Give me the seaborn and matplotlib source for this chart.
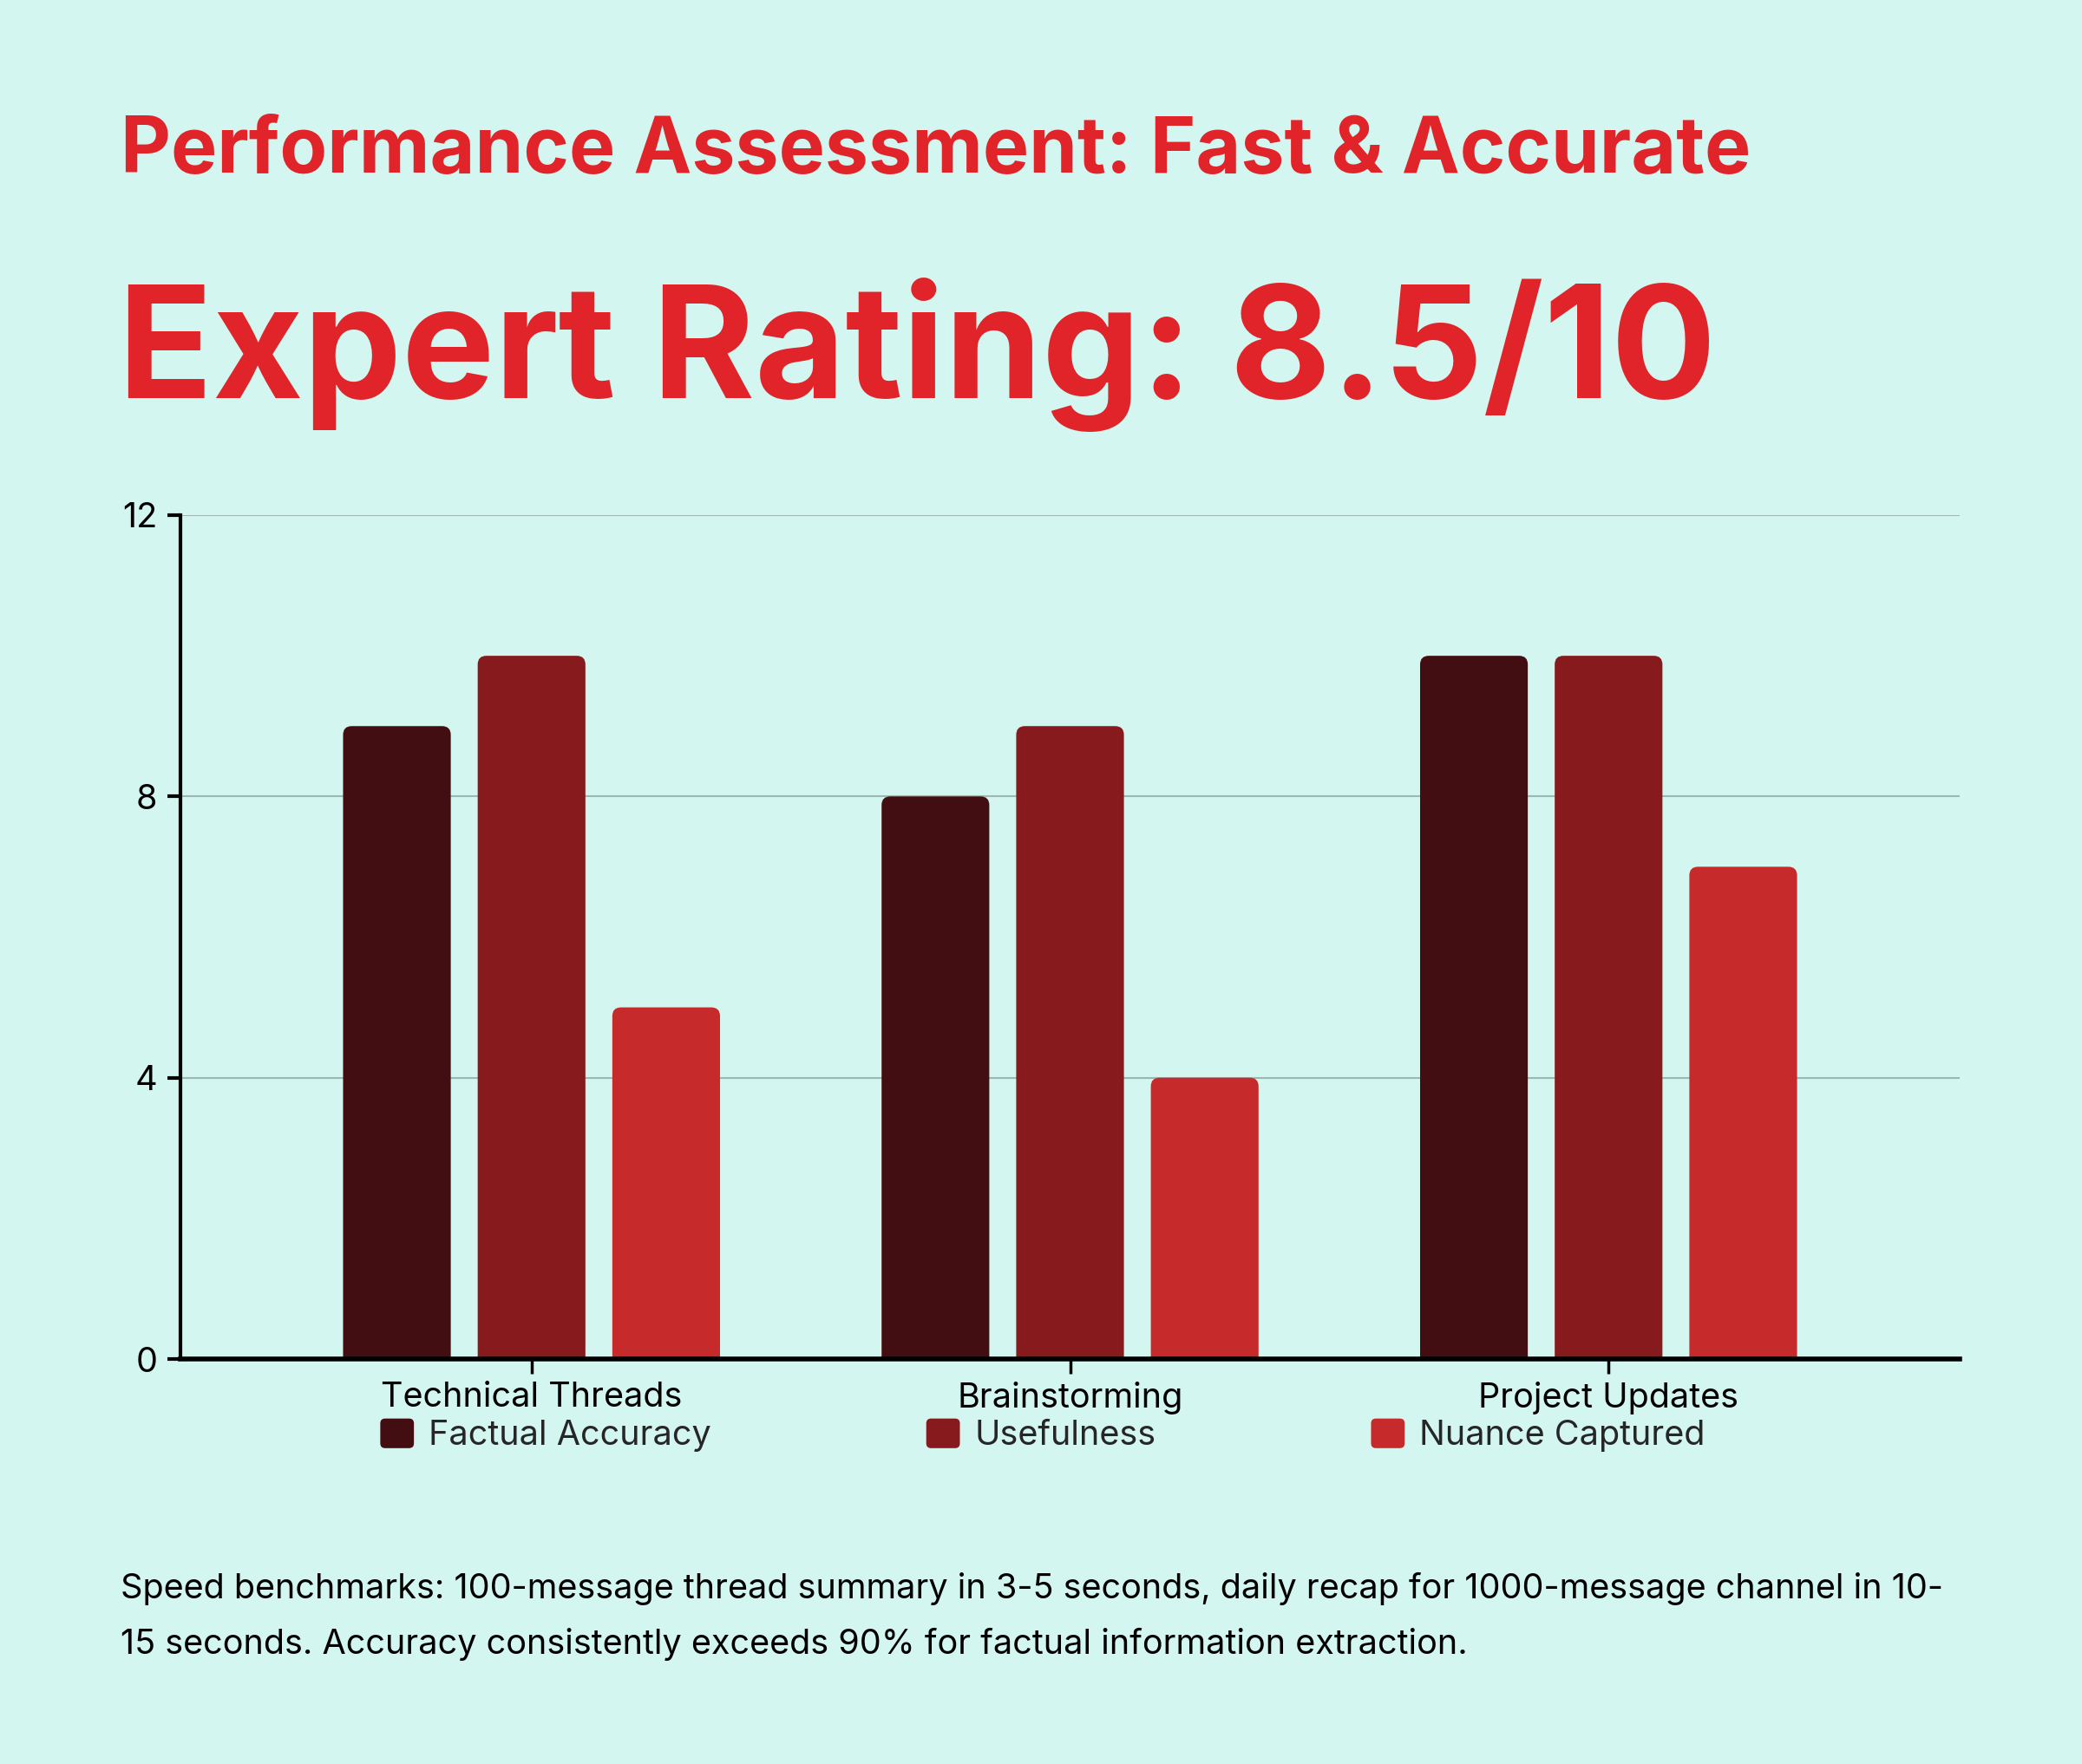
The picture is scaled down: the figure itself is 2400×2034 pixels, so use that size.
import matplotlib
matplotlib.use("Agg")
import matplotlib.pyplot as plt
from matplotlib.patches import FancyBboxPatch, Patch
from matplotlib.legend_handler import HandlerPatch
import seaborn as sns
import pandas as pd

categories = ["Technical Threads", "Brainstorming", "Project Updates"]
series_names = ["Factual Accuracy", "Usefulness", "Nuance Captured"]
factual_accuracy = [9, 8, 10]
usefulness = [10, 9, 10]
nuance_captured = [5, 4, 7]
y_ticks = [0, 4, 8, 12]

title_small = "Performance Assessment: Fast & Accurate"
title_big = "Expert Rating: 8.5/10"
footnote_1 = "Speed benchmarks: 100-message thread summary in 3-5 seconds, daily recap for 1000-message channel in 10-"
footnote_2 = "15 seconds. Accuracy consistently exceeds 90% for factual information extraction."

colors = ["#420e11", "#861a1d", "#c62a2b"]
bg = "#d4f6f0"
red = "#e0242a"

rows = []
for name, vals in zip(series_names, [factual_accuracy, usefulness, nuance_captured]):
    for c, v in zip(categories, vals):
        rows.append({"category": c, "series": name, "value": v})
df = pd.DataFrame(rows)

sns.set_theme(style="white")
plt.rcParams["font.family"] = ["Inter", "DejaVu Sans"]

W, H = 2400, 2034
fs = 28.5
fig = plt.figure(figsize=(W / 100, H / 100), dpi=100, facecolor=bg)
ax = fig.add_axes([208 / W, 1 - 1567 / H, (2259 - 208) / W, (1567 - 594) / H])
ax.set_facecolor(bg)

sns.barplot(data=df, x="category", y="value", hue="series", order=categories,
            hue_order=series_names, palette=colors, width=0.75, gap=0.2,
            legend=False, ax=ax, errorbar=None, saturation=1)

ax.set_xlim(-0.652, 2.652)
ax.set_ylim(0, 12)

# rounded top corners
fig.canvas.draw()
x_px_per_unit = ax.get_window_extent().width / (ax.get_xlim()[1] - ax.get_xlim()[0])
y_px_per_unit = ax.get_window_extent().height / (ax.get_ylim()[1] - ax.get_ylim()[0])
r_px = 10
rs = r_px / x_px_per_unit
aspect = x_px_per_unit / y_px_per_unit
for p in list(ax.patches):
    x, y = p.get_x(), p.get_y()
    w, h = p.get_width(), p.get_height()
    fc = p.get_facecolor()
    p.set_visible(False)
    ext = 0.3
    fb = FancyBboxPatch((x, y - ext), w, h + ext,
                        boxstyle=f"round,pad=0,rounding_size={rs}",
                        mutation_aspect=aspect, facecolor=fc, edgecolor="none",
                        zorder=2, clip_on=True)
    ax.add_patch(fb)

ax.set_yticks(y_ticks)
ax.set_yticklabels([str(t) for t in y_ticks])
ax.set_xlabel("")
ax.set_ylabel("")
for t in [4, 8, 12]:
    ax.axhline(t, color="#9db7b2", lw=1.5, zorder=1)

for s in ["top", "right"]:
    ax.spines[s].set_visible(False)
ax.spines["left"].set_color("black")
ax.spines["left"].set_linewidth(3)
ax.spines["bottom"].set_color("black")
ax.spines["bottom"].set_linewidth(4)
ax.spines["bottom"].set_zorder(5)
ax.tick_params(axis="y", direction="out", length=11, width=3, color="black",
               labelsize=fs, pad=8, labelcolor="black", left=True)
ax.tick_params(axis="x", direction="out", length=12, width=2.5, color="black",
               labelsize=fs, pad=7, labelcolor="black", bottom=True)

# titles
fig.text(139 / W, 1 - 199 / H, title_small, color=red, fontsize=64.5,
         fontweight="bold", ha="left", va="baseline")
fig.text(136 / W, 1 - 459 / H, title_big, color=red, fontsize=129.5,
         fontweight="bold", ha="left", va="baseline")

# footnote
fig.text(139 / W, 1 - 1843 / H, footnote_1, color="black", fontsize=fs,
         ha="left", va="baseline")
fig.text(139 / W, 1 - 1907 / H, footnote_2, color="black", fontsize=fs,
         ha="left", va="baseline")


class RoundHandler(HandlerPatch):
    def create_artists(self, legend, orig_handle, xdescent, ydescent, width,
                       height, fontsize, trans):
        p = FancyBboxPatch((-xdescent, -ydescent), width, height,
                           boxstyle="round,pad=0,rounding_size=4",
                           facecolor=orig_handle.get_facecolor(),
                           edgecolor="none", transform=trans)
        return [p]


handles = [Patch(facecolor=c, label=n) for c, n in zip(colors, series_names)]
leg = fig.legend(handles=handles, loc="center", bbox_to_anchor=(1202 / W, 1 - 1655 / H),
                 ncol=3, frameon=False, fontsize=fs, handlelength=0.98,
                 handleheight=0.95, handletextpad=0.43, columnspacing=6.26,
                 handler_map={Patch: RoundHandler()})

fig.savefig("out.png", dpi=100, facecolor=bg)
